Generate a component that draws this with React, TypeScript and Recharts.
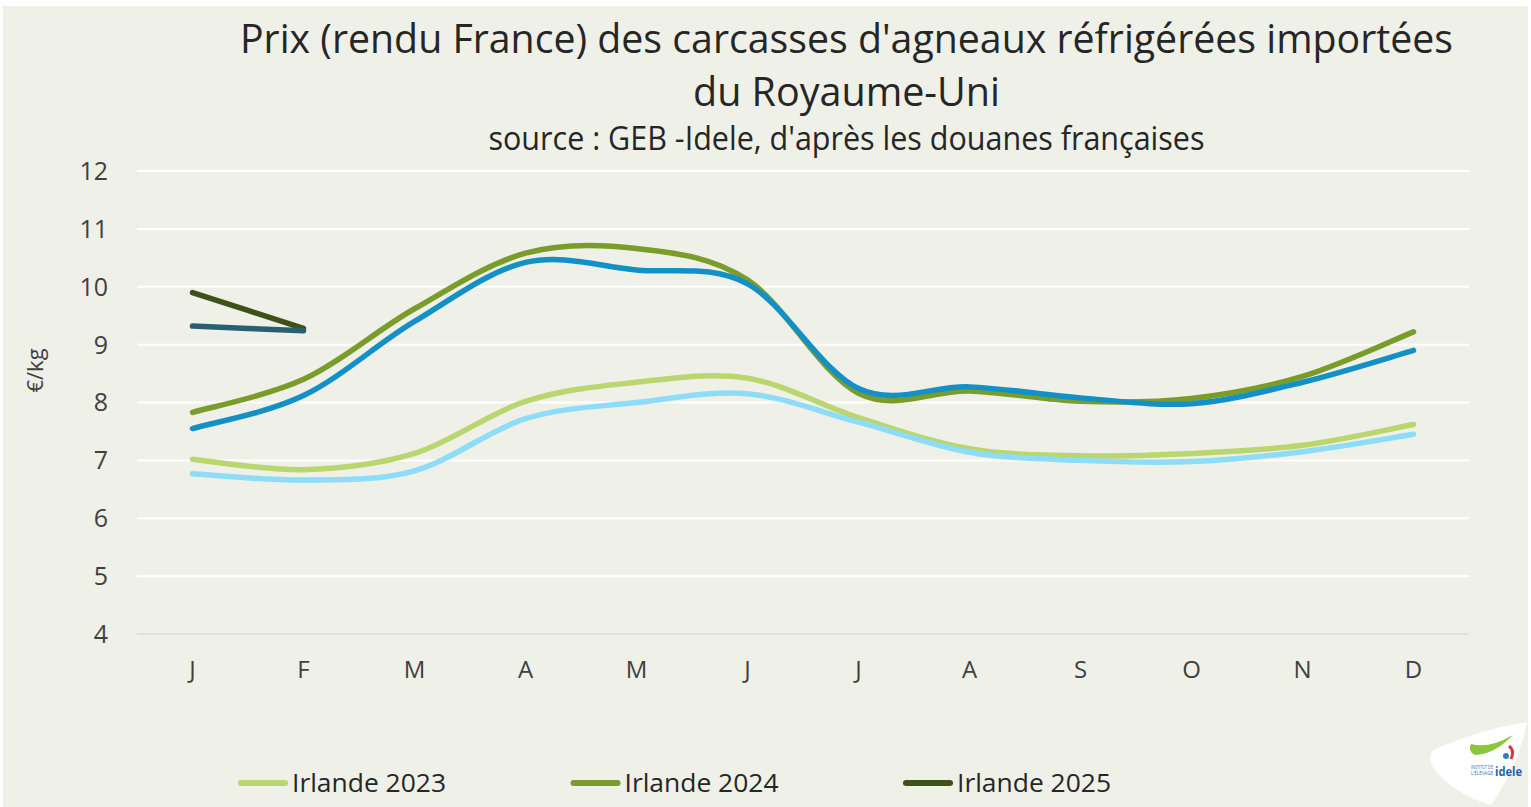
import React from "react";
import { LineChart, Line, XAxis, YAxis, CartesianGrid } from "recharts";

// values (€/kg)
const months = ["J", "F", "M", "A", "M", "J", "J", "A", "S", "O", "N", "D"];
const irlande2023 = [7.02, 6.84, 7.12, 8.02, 8.35, 8.42, 7.74, 7.2, 7.08, 7.12, 7.26, 7.62];
const royaumeUni2023 = [6.77, 6.66, 6.82, 7.72, 8.0, 8.15, 7.66, 7.14, 7.0, 6.98, 7.15, 7.45];
const irlande2024 = [7.83, 8.4, 9.62, 10.58, 10.66, 10.12, 8.16, 8.2, 8.02, 8.07, 8.45, 9.22];
const royaumeUni2024 = [7.55, 8.12, 9.4, 10.42, 10.29, 10.05, 8.24, 8.27, 8.08, 7.98, 8.35, 8.9];
const irlande2025 = [9.9, 9.28];
const royaumeUni2025 = [9.32, 9.24];
const yTicks = [4, 5, 6, 7, 8, 9, 10, 11, 12];

const series = [
  { key: "irl2023", name: "Irlande 2023", values: irlande2023, color: "#B9D66F", legend: true },
  { key: "uk2023", name: "Royaume-Uni 2023", values: royaumeUni2023, color: "#8DDCF8", legend: false },
  { key: "irl2024", name: "Irlande 2024", values: irlande2024, color: "#7A9C2B", legend: true },
  { key: "uk2024", name: "Royaume-Uni 2024", values: royaumeUni2024, color: "#1391C7", legend: false },
  { key: "irl2025", name: "Irlande 2025", values: irlande2025, color: "#3E5119", legend: true },
  { key: "uk2025", name: "Royaume-Uni 2025", values: royaumeUni2025, color: "#2A5E73", legend: false },
];

const data = months.map((m, i) => {
  const row: Record<string, any> = { month: m };
  series.forEach((s) => {
    row[s.key] = s.values[i] ?? null;
  });
  return row;
});

// Excel-like smoothing (Catmull-Rom, uniform)
function excelSmooth(context: any) {
  let xs: number[] = [];
  let ys: number[] = [];
  return {
    areaStart() {},
    areaEnd() {},
    lineStart() {
      xs = [];
      ys = [];
    },
    point(x: number, y: number) {
      xs.push(+x);
      ys.push(+y);
    },
    lineEnd() {
      const n = xs.length;
      if (!n) return;
      context.moveTo(xs[0], ys[0]);
      if (n === 1) return;
      for (let i = 0; i < n - 1; i++) {
        const a = Math.max(i - 1, 0);
        const d = Math.min(i + 2, n - 1);
        const c1x = xs[i] + (xs[i + 1] - xs[a]) / 6;
        const c1y = ys[i] + (ys[i + 1] - ys[a]) / 6;
        const c2x = xs[i + 1] - (xs[d] - xs[i]) / 6;
        const c2y = ys[i + 1] - (ys[d] - ys[i]) / 6;
        context.bezierCurveTo(c1x, c1y, c2x, c2y, xs[i + 1], ys[i + 1]);
      }
    },
  };
}

const FONT = "'Open Sans', 'DejaVu Sans', sans-serif";

const UnitLabel = (props: any) => {
  const vb = props.viewBox || { x: 0, y: 0, height: 0 };
  const x = vb.x - 3;
  const y = vb.y + vb.height / 2 - 32;
  return (
    <text x={x} y={y} transform={`rotate(-90, ${x}, ${y})`} textAnchor="middle" dominantBaseline="central" fontSize={22} fill="#404040" fontFamily={FONT}>
      €/kg
    </text>
  );
};

function ChartLegend() {
  const items = series.filter((s) => s.legend);
  return (
    <svg width={1531} height={40} style={{ position: "absolute", left: 0, top: 761 }}>
      {items.map((s, i) => {
        const x = 238 + i * 332.5;
        return (
          <g key={s.key}>
            <line x1={x + 3} x2={x + 47} y1={22} y2={22} stroke={s.color} strokeWidth={6} strokeLinecap="round" />
            <text x={x + 54} y={31} fontSize={25} fill="#262626" fontFamily={FONT} textLength={154} lengthAdjust="spacingAndGlyphs">
              {s.name}
            </text>
          </g>
        );
      })}
    </svg>
  );
}

export default function App() {
  return (
    <div style={{ position: "absolute", left: 0, top: 0, width: 1531, height: 807, background: "#FFFFFF", overflow: "hidden" }}>
      <div style={{ position: "absolute", left: 3, top: 6, width: 1525, height: 801, background: "#EFF0E7" }} />
      <svg width={1531} height={170} style={{ position: "absolute", left: 0, top: 0 }}>
        <text x={846.5} y={53} textAnchor="middle" fontSize={40} fill="#262626" fontFamily={FONT} textLength={1213} lengthAdjust="spacingAndGlyphs">
          Prix (rendu France) des carcasses d'agneaux réfrigérées importées
        </text>
        <text x={846.5} y={106} textAnchor="middle" fontSize={40} fill="#262626" fontFamily={FONT} textLength={307} lengthAdjust="spacingAndGlyphs">
          du Royaume-Uni
        </text>
        <text x={846.5} y={150} textAnchor="middle" fontSize={32} fill="#262626" fontFamily={FONT} textLength={716} lengthAdjust="spacingAndGlyphs">
          source : GEB -Idele, d'après les douanes françaises
        </text>
      </svg>
      <div style={{ position: "absolute", left: 0, top: 0 }}>
        <LineChart width={1531} height={807} data={data} margin={{ top: 171, right: 62, bottom: 133, left: 37 }}>
          <CartesianGrid vertical={false} stroke="#FFFFFF" strokeWidth={2} />
          <XAxis
            dataKey="month"
            height={40}
            padding={{ left: 55.5, right: 55.5 }}
            tickLine={false}
            tickSize={0}
            tickMargin={27}
            axisLine={{ stroke: "#D9D9D9", strokeWidth: 1.5 }}
            tick={{ fontSize: 24, fill: "#404040", fontFamily: FONT }}
          />
          <YAxis
            width={100}
            domain={[4, 12]}
            ticks={yTicks}
            interval={0}
            axisLine={false}
            tickLine={false}
            tickSize={0}
            tickMargin={29}
            tick={{ fontSize: 25, fill: "#404040", fontFamily: FONT }}
            label={<UnitLabel />}
          />
          {series.map((s) => (
            <Line
              key={s.key}
              dataKey={s.key}
              name={s.name}
              type={excelSmooth as any}
              stroke={s.color}
              strokeWidth={5.5}
              strokeLinecap="round"
              dot={false}
              activeDot={false}
              isAnimationActive={false}
            />
          ))}
        </LineChart>
      </div>
      <ChartLegend />
      <svg width={110} height={92} style={{ position: "absolute", left: 1421, top: 715 }}>
        <path d="M 106 7 Q 60 14 14 34 Q 6 40 12 52 Q 30 78 70 90 Q 98 50 106 7 Z" fill="#FFFFFF" />
        <path d="M 50 29 Q 68 34 92 20 Q 74 39 54 40 Q 46 36 50 29 Z" fill="#8CC63F" />
        <path d="M 88 31 Q 94 35 90 44" stroke="#E3342F" strokeWidth={3} fill="none" />
        <circle cx={85} cy={41} r={3} fill="#3A7CC3" />
        <text x={50} y={54} fontSize={4.5} fill="#3A6FB5" fontFamily={FONT} textLength={22} lengthAdjust="spacingAndGlyphs">INSTITUT DE</text>
        <text x={50} y={60} fontSize={4.5} fill="#3A6FB5" fontFamily={FONT} textLength={22} lengthAdjust="spacingAndGlyphs">L'ÉLEVAGE</text>
        <text x={74} y={61} fontSize={12} fontWeight="bold" fill="#2563B0" fontFamily={FONT} textLength={27} lengthAdjust="spacingAndGlyphs">idele</text>
      </svg>
    </div>
  );
}
